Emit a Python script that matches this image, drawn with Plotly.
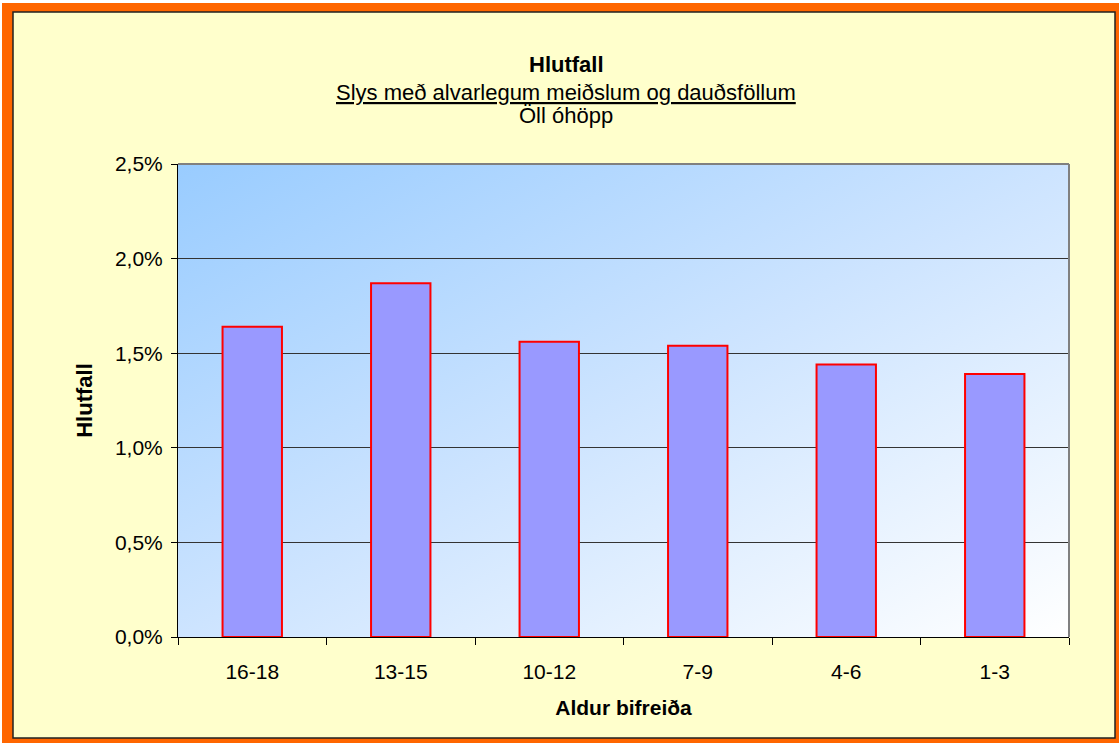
import base64
import plotly.graph_objects as go

# Vehicle age groups and share of accidents with serious injuries / fatalities (%)
aldur = ["16-18", "13-15", "10-12", "7-9", "4-6", "1-3"]
hlutfall = [1.64, 1.87, 1.56, 1.54, 1.44, 1.39]

y_ticks = [0.0, 0.5, 1.0, 1.5, 2.0, 2.5]
y_labels = ["0,0%", "0,5%", "1,0%", "1,5%", "2,0%", "2,5%"]

W, H = 1119, 743
L, R, T, B = 178, 1069, 164, 637  # plot area in pixels


def px(x):
    return (x - L) / (R - L)


def py(y):
    return (B - y) / (B - T)


# diagonal light-blue to white gradient for the plot area
svg = (
    '<svg xmlns="http://www.w3.org/2000/svg" width="891" height="473" '
    'viewBox="0 0 891 473" preserveAspectRatio="none">'
    '<defs><linearGradient id="g" x1="0" y1="0" x2="1" y2="1">'
    '<stop offset="0" stop-color="#99CCFF"/>'
    '<stop offset="0.5" stop-color="#CDE4FF"/>'
    '<stop offset="1" stop-color="#FFFFFF"/>'
    '</linearGradient></defs>'
    '<rect width="891" height="473" fill="url(#g)"/></svg>'
)
svg_uri = "data:image/svg+xml;base64," + base64.b64encode(svg.encode()).decode()

font = "Liberation Sans, Arial, sans-serif"
ORANGE = "#FF6600"


def band(x0, x1, y0, y1, color):
    return dict(type="rect", xref="paper", yref="paper", layer="below",
                x0=px(x0), x1=px(x1), y0=py(y0), y1=py(y1),
                fillcolor=color, line=dict(width=0))


fig = go.Figure()
fig.add_trace(
    go.Bar(
        x=aldur,
        y=hlutfall,
        width=0.40,
        marker=dict(color="#9999FF", line=dict(color="#FF0000", width=2)),
        hoverinfo="x+y",
    )
)

fig.update_layout(
    width=W,
    height=H,
    margin=dict(l=L, r=W - R, t=T, b=H - B, autoexpand=False),
    paper_bgcolor="#FFFFCC",
    plot_bgcolor="rgba(0,0,0,0)",
    showlegend=False,
    font=dict(family=font, color="#000000"),
    bargap=0.6,
    xaxis=dict(
        type="category",
        showgrid=False,
        showline=True,
        linecolor="#000000",
        linewidth=1,
        ticks="outside",
        tickson="boundaries",
        ticklen=7,
        tickcolor="#000000",
        tickfont=dict(size=21),
        ticklabelstandoff=16,
        title=dict(text="<b>Aldur bifreiða</b>", font=dict(size=21), standoff=18),
        automargin=False,
        fixedrange=True,
    ),
    yaxis=dict(
        range=[0, 2.5],
        tickvals=y_ticks,
        ticktext=y_labels,
        showgrid=True,
        gridcolor="#333333",
        gridwidth=1,
        zeroline=False,
        showline=True,
        linecolor="#000000",
        linewidth=1,
        ticks="outside",
        ticklen=6,
        tickcolor="#000000",
        tickfont=dict(size=21),
        ticklabelstandoff=4,
        title=dict(text="<b>Hlutfall</b>", font=dict(size=22), standoff=16),
        automargin=False,
        fixedrange=True,
    ),
    images=[
        dict(
            source=svg_uri,
            xref="paper",
            yref="paper",
            x=0,
            y=1,
            sizex=1,
            sizey=1,
            sizing="stretch",
            xanchor="left",
            yanchor="top",
            layer="below",
        )
    ],
    shapes=[
        # white sliver at the top and left edge
        band(0, W, 0, 3, "#FFFFFF"),
        band(0, 2, 0, H, "#FFFFFF"),
        # orange outer frame
        band(2, W, 3, 12, ORANGE),
        band(2, 13, 3, H, ORANGE),
        band(1115, W, 3, H, ORANGE),
        band(2, W, 738, H, ORANGE),
        # thin dark edge around the chart area
        dict(type="rect", xref="paper", yref="paper", layer="below",
             x0=px(13), x1=px(1115), y0=py(12), y1=py(738),
             line=dict(color="#222222", width=1.5)),
        # grey top and right border of the plot area
        dict(type="line", xref="paper", yref="paper", layer="above",
             x0=0, x1=1, y0=1, y1=1, line=dict(color="#808080", width=2)),
        dict(type="line", xref="paper", yref="paper", layer="above",
             x0=1, x1=1, y0=0, y1=1, line=dict(color="#808080", width=2)),
    ],
    annotations=[
        dict(text="<b>Hlutfall</b>", xref="paper", yref="paper",
             x=px(566), y=py(64), showarrow=False, xanchor="center", yanchor="middle",
             font=dict(size=22)),
        dict(text="<u>Slys með alvarlegum meiðslum og dauðsföllum</u>", xref="paper", yref="paper",
             x=px(566), y=py(92), showarrow=False, xanchor="center", yanchor="middle",
             font=dict(size=22)),
        dict(text="Öll óhöpp", xref="paper", yref="paper",
             x=px(566), y=py(116), showarrow=False, xanchor="center", yanchor="middle",
             font=dict(size=22)),
    ],
)

fig.write_html("out.html")
